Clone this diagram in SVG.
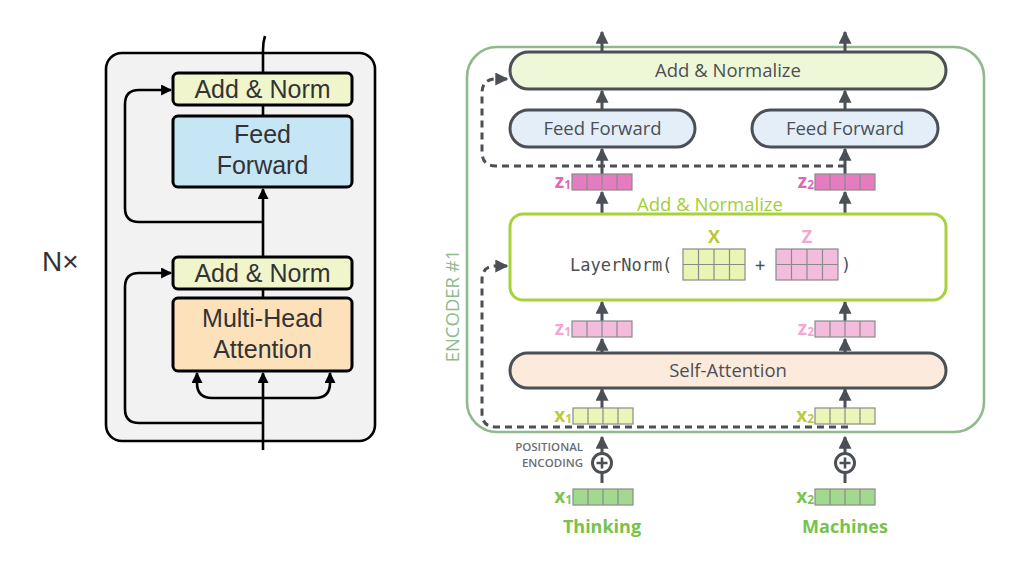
<svg xmlns="http://www.w3.org/2000/svg" width="1024" height="573" viewBox="0 0 1024 573">
<style>
.lt{font-family:"Liberation Sans",Arial,sans-serif;font-size:25px;fill:#333;text-anchor:middle}
.lbox{stroke:#000;stroke-width:3}
.lline{fill:none;stroke:#000;stroke-width:2.6}
.rt{font-family:"Open Sans","Noto Sans",sans-serif;font-size:18.5px;fill:#4b4f56;text-anchor:middle}
.rbox{stroke:#4b4f56;stroke-width:3}
.ar{fill:none;stroke:#4b4f56;stroke-width:3}
.dash{fill:none;stroke:#4b4f56;stroke-width:3;stroke-dasharray:7 5}
.cell{stroke:#8a8a8a;stroke-width:1.2}
.lab{font-family:"Open Sans","Noto Sans",sans-serif;font-weight:bold;font-size:19px;text-anchor:end}
.sub{font-size:12px}
.mono{font-family:"DejaVu Sans Mono","Liberation Mono",monospace;font-size:17px;fill:#4b4f56}
.pe{font-family:"Open Sans","Noto Sans",sans-serif;font-weight:600;font-size:11.5px;fill:#6b6e73;text-anchor:end}
</style>
<defs>
<marker id="ak" viewBox="0 0 10 10" refX="9" refY="5" markerWidth="11" markerHeight="11" markerUnits="userSpaceOnUse" orient="auto"><path d="M0,0 L10,5 L0,10 z" fill="#000"/></marker>
<marker id="ag" viewBox="0 0 10 10" refX="9" refY="5" markerWidth="13" markerHeight="13" markerUnits="userSpaceOnUse" orient="auto"><path d="M0,0 L10,5 L0,10 z" fill="#4b4f56"/></marker>
</defs>

<!-- LEFT DIAGRAM -->
<g id="left-frame">
<rect x="106" y="53" width="269" height="388" rx="16" fill="#f2f2f2" stroke="#000" stroke-width="2.6"/>
</g>
<g id="left-connectors">
<path class="lline" d="M263,450 V373" marker-end="url(#ak)"/>
<path class="lline" d="M263,298 V288"/>
<path class="lline" d="M263,257 V189" marker-end="url(#ak)"/>
<path class="lline" d="M263,116 V105"/>
<path class="lline" d="M263,73 V50 Q263,42 265,36"/>
<path class="lline" d="M263,222 H139 Q125,222 125,208 V104 Q125,90 139,90 H171" marker-end="url(#ak)"/>
<path class="lline" d="M263,423 H139 Q125,423 125,409 V287 Q125,273 139,273 H171" marker-end="url(#ak)"/>
<path class="lline" d="M263,398 H212 Q197,398 197,383 V373" marker-end="url(#ak)"/>
<path class="lline" d="M263,398 H315 Q330,398 330,383 V373" marker-end="url(#ak)"/>
</g>
<g id="left-addnorm-top">
<rect class="lbox" x="173" y="73" width="179" height="32" rx="5" fill="#f0f5cc"/>
<text class="lt" x="262.5" y="98">Add &amp; Norm</text>
</g>
<g id="left-feedforward">
<rect class="lbox" x="173" y="116" width="179" height="71" rx="5" fill="#c6e6f6"/>
<text class="lt" x="262.5" y="143">Feed</text>
<text class="lt" x="262.5" y="174">Forward</text>
</g>
<g id="left-addnorm-bottom">
<rect class="lbox" x="173" y="257" width="179" height="32" rx="5" fill="#f0f5cc"/>
<text class="lt" x="262.5" y="282">Add &amp; Norm</text>
</g>
<g id="left-mha">
<rect class="lbox" x="173" y="298" width="179" height="73" rx="5" fill="#fde1bb"/>
<text class="lt" x="262.5" y="327">Multi-Head</text>
<text class="lt" x="262.5" y="358">Attention</text>
</g>
<g id="nx">
<text x="42" y="271" font-family="Liberation Sans,Arial,sans-serif" font-size="28" fill="#333">N×</text>
</g>

<!-- RIGHT DIAGRAM -->
<g id="encoder">
<rect x="467" y="47" width="517" height="385" rx="30" fill="none" stroke="#8fba8b" stroke-width="2.6"/>
<text transform="translate(459,306) rotate(-90)" font-family="Open Sans,Noto Sans,sans-serif" font-size="18.5" fill="#8fba8b" text-anchor="middle">ENCODER #1</text>
</g>

<g id="connectors">
<path class="ar" d="M602,52 V32" marker-end="url(#ag)"/>
<path class="ar" d="M845,52 V32" marker-end="url(#ag)"/>
<path class="ar" d="M602,110 V91" marker-end="url(#ag)"/>
<path class="ar" d="M845,110 V91" marker-end="url(#ag)"/>
<path class="ar" d="M602,174 V149" marker-end="url(#ag)"/>
<path class="ar" d="M845,174 V149" marker-end="url(#ag)"/>
<path class="ar" d="M602,214 V192" marker-end="url(#ag)"/>
<path class="ar" d="M845,214 V192" marker-end="url(#ag)"/>
<path class="ar" d="M602,321 V302" marker-end="url(#ag)"/>
<path class="ar" d="M845,321 V302" marker-end="url(#ag)"/>
<path class="ar" d="M602,353 V339" marker-end="url(#ag)"/>
<path class="ar" d="M845,353 V339" marker-end="url(#ag)"/>
<path class="ar" d="M602,408 V389" marker-end="url(#ag)"/>
<path class="ar" d="M845,408 V389" marker-end="url(#ag)"/>
<path class="ar" d="M602,453 V437" marker-end="url(#ag)"/>
<path class="ar" d="M845,453 V437" marker-end="url(#ag)"/>
<path class="ar" d="M602,473 V483"/>
<path class="ar" d="M845,473 V483"/>
<path class="dash" d="M845,166 H496 Q482,166 482,152 V93 Q482,79 496,79 H500"/>
<path class="ar" d="M498,79 H507" marker-end="url(#ag)"/>
<path class="dash" d="M848,427 H496 Q482,427 482,413 V280 Q482,266 496,266 H500"/>
<path class="ar" d="M498,266 H507" marker-end="url(#ag)"/>
</g>

<g id="add-normalize-top">
<rect class="rbox" x="510" y="52" width="436" height="37" rx="18.5" fill="#eef8d8"/>
<text class="rt" x="728" y="77">Add &amp; Normalize</text>
</g>
<g id="ff1">
<rect class="rbox" x="510" y="110" width="185" height="37" rx="18.5" fill="#e4eef9"/>
<text class="rt" x="602.5" y="135">Feed Forward</text>
</g>
<g id="ff2">
<rect class="rbox" x="752" y="110" width="186" height="37" rx="18.5" fill="#e4eef9"/>
<text class="rt" x="845" y="135">Feed Forward</text>
</g>

<g id="z1-dark">
<rect class="cell" x="572" y="174" width="60" height="16" fill="#e57cbf"/>
<path class="cell" d="M587,174V190M602,174V190M617,174V190"/>
<text class="lab" x="571" y="188" fill="#e068b4">z<tspan class="sub" dy="1">1</tspan></text>
</g>
<g id="z2-dark">
<rect class="cell" x="815" y="174" width="60" height="16" fill="#e57cbf"/>
<path class="cell" d="M830,174V190M845,174V190M860,174V190"/>
<text class="lab" x="814" y="188" fill="#e068b4">z<tspan class="sub" dy="1">2</tspan></text>
</g>

<g id="layernorm">
<text x="710" y="211" font-family="Open Sans,Noto Sans,sans-serif" font-size="18.5" fill="#a2cf38" text-anchor="middle">Add &amp; Normalize</text>
<rect x="510" y="214" width="436" height="86" rx="13" fill="#fff" stroke="#a6d33c" stroke-width="3"/>
<text class="mono" x="570" y="271">LayerNorm(</text>
<text font-family="Open Sans,Noto Sans,sans-serif" font-weight="bold" font-size="18" fill="#b7ca33" text-anchor="middle" x="714" y="243">X</text>
<rect class="cell" x="683" y="249" width="62" height="31" fill="#e9f5b3"/>
<path class="cell" d="M698.5,249V280M714,249V280M729.5,249V280M683,264.5H745"/>
<text class="mono" x="760" y="271" text-anchor="middle">+</text>
<text font-family="Open Sans,Noto Sans,sans-serif" font-weight="bold" font-size="18" fill="#f3a7cf" text-anchor="middle" x="807" y="243">Z</text>
<rect class="cell" x="776" y="249" width="62" height="31" fill="#f4bcdc"/>
<path class="cell" d="M791.5,249V280M807,249V280M822.5,249V280M776,264.5H838"/>
<text class="mono" x="846" y="271" text-anchor="middle">)</text>
</g>

<g id="z1-light">
<rect class="cell" x="572" y="321" width="60" height="16" fill="#f4bcdc"/>
<path class="cell" d="M587,321V337M602,321V337M617,321V337"/>
<text class="lab" x="571" y="335" fill="#f2a6d0">z<tspan class="sub" dy="1">1</tspan></text>
</g>
<g id="z2-light">
<rect class="cell" x="815" y="321" width="60" height="16" fill="#f4bcdc"/>
<path class="cell" d="M830,321V337M845,321V337M860,321V337"/>
<text class="lab" x="814" y="335" fill="#f2a6d0">z<tspan class="sub" dy="1">2</tspan></text>
</g>

<g id="self-attention">
<rect class="rbox" x="510" y="353" width="436" height="35" rx="17.5" fill="#fcebdd"/>
<text class="rt" x="728" y="377">Self-Attention</text>
</g>

<g id="x1-light">
<rect class="cell" x="573" y="408" width="60" height="16" fill="#ebf5b8"/>
<path class="cell" d="M588,408V424M603,408V424M618,408V424"/>
<text class="lab" x="572" y="422" fill="#c0cb3a">x<tspan class="sub" dy="1">1</tspan></text>
</g>
<g id="x2-light">
<rect class="cell" x="815" y="408" width="60" height="16" fill="#ebf5b8"/>
<path class="cell" d="M830,408V424M845,408V424M860,408V424"/>
<text class="lab" x="814" y="422" fill="#c0cb3a">x<tspan class="sub" dy="1">2</tspan></text>
</g>

<g id="posenc1">
<circle cx="602" cy="463" r="9.5" fill="#fff" stroke="#4b4f56" stroke-width="3"/>
<path d="M596.5,463H607.5M602,457.5V468.5" stroke="#4b4f56" stroke-width="2.6"/>
<text class="pe" x="583" y="451">POSITIONAL</text>
<text class="pe" x="583" y="467">ENCODING</text>
</g>
<g id="posenc2">
<circle cx="845" cy="463" r="9.5" fill="#fff" stroke="#4b4f56" stroke-width="3"/>
<path d="M839.5,463H850.5M845,457.5V468.5" stroke="#4b4f56" stroke-width="2.6"/>
</g>

<g id="x1-input">
<rect class="cell" x="573" y="489" width="60" height="16" fill="#a3d98e"/>
<path class="cell" d="M588,489V505M603,489V505M618,489V505"/>
<text class="lab" x="572" y="503" fill="#7cc553">x<tspan class="sub" dy="1">1</tspan></text>
<text font-family="Open Sans,Noto Sans,sans-serif" font-weight="bold" font-size="18" fill="#77c24b" text-anchor="middle" x="602" y="533">Thinking</text>
</g>
<g id="x2-input">
<rect class="cell" x="815" y="489" width="60" height="16" fill="#a3d98e"/>
<path class="cell" d="M830,489V505M845,489V505M860,489V505"/>
<text class="lab" x="814" y="503" fill="#7cc553">x<tspan class="sub" dy="1">2</tspan></text>
<text font-family="Open Sans,Noto Sans,sans-serif" font-weight="bold" font-size="18" fill="#77c24b" text-anchor="middle" x="845" y="533">Machines</text>
</g>
</svg>
